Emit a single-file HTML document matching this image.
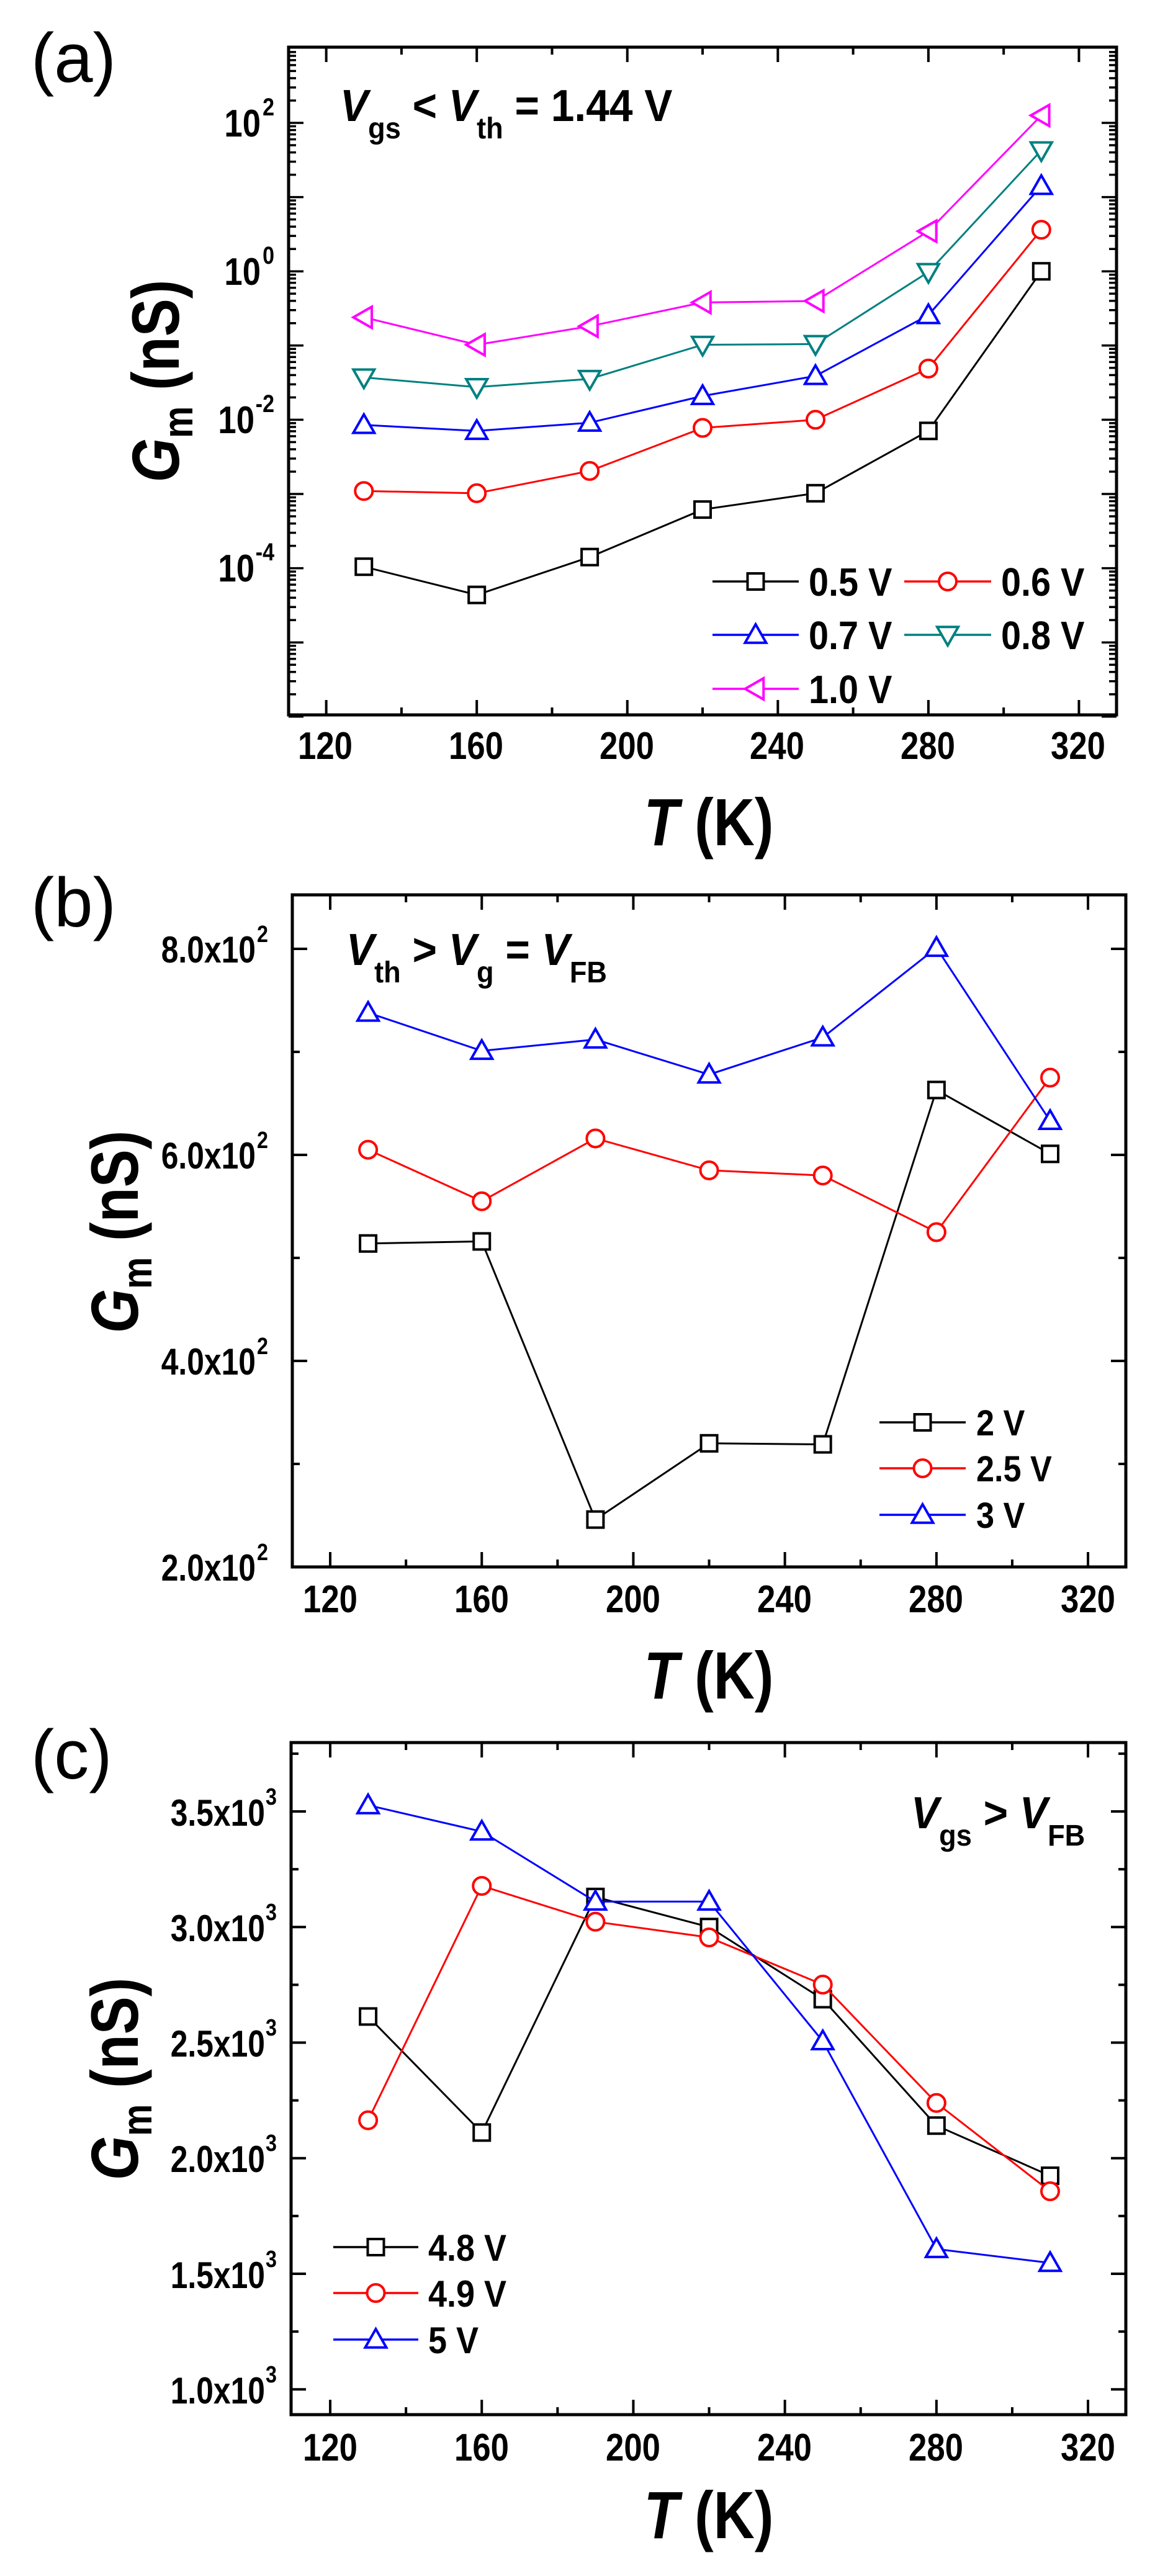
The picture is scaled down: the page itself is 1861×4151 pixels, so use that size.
<!DOCTYPE html>
<html><head><meta charset="utf-8">
<style>
html,body{margin:0;padding:0;background:#fff;}
svg{display:block;}
text{font-family:"Liberation Sans",Arial,sans-serif;font-weight:bold;fill:#000;}
.pl{font-weight:normal;}
</style></head>
<body>
<svg id="s" xmlns="http://www.w3.org/2000/svg" width="1861" height="4151" viewBox="0 0 1861 4151">
<rect width="1861" height="4151" fill="#fff"/>
<g id="g"></g>

<!-- panel labels -->
<text class="pl" x="50" y="132" font-size="112">(a)</text>
<text class="pl" x="50" y="1493" font-size="112">(b)</text>
<text class="pl" x="50" y="2866" font-size="112">(c)</text>

<!-- ===== (a) tick labels ===== -->
<g font-size="62" text-anchor="middle">
<text transform="translate(524,1223) scale(0.85,1)">120</text>
<text transform="translate(767,1223) scale(0.85,1)">160</text>
<text transform="translate(1010,1223) scale(0.85,1)">200</text>
<text transform="translate(1252,1223) scale(0.85,1)">240</text>
<text transform="translate(1495,1223) scale(0.85,1)">280</text>
<text transform="translate(1737,1223) scale(0.85,1)">320</text>
</g>
<g font-size="62" text-anchor="end">
<text transform="translate(420,220) scale(0.85,1)">10</text>
<text transform="translate(420,459) scale(0.85,1)">10</text>
<text transform="translate(410,698) scale(0.85,1)">10</text>
<text transform="translate(410,937) scale(0.85,1)">10</text>
</g>
<g font-size="40" text-anchor="end">
<text transform="translate(442,186) scale(0.85,1)">2</text>
<text transform="translate(442,425) scale(0.85,1)">0</text>
<text transform="translate(442,664) scale(0.85,1)">-2</text>
<text transform="translate(442,903) scale(0.85,1)">-4</text>
</g>
<!-- (a) axis titles -->
<text font-size="108" text-anchor="middle" transform="translate(1142,1362) scale(0.85,1)"><tspan font-style="italic">T</tspan> (K)</text>
<text font-size="108" text-anchor="middle" transform="translate(288,614) rotate(-90) scale(0.85,1)"><tspan font-style="italic">G</tspan><tspan font-size="68" dy="22">m</tspan><tspan dy="-22"> (nS)</tspan></text>
<!-- (a) annotation -->
<text font-size="72" transform="translate(548,195) scale(0.94,1)"><tspan font-style="italic">V</tspan><tspan font-size="48" dy="28">gs</tspan><tspan dy="-28"> &lt; </tspan><tspan font-style="italic">V</tspan><tspan font-size="48" dy="28">th</tspan><tspan dy="-28"> = 1.44 V</tspan></text>
<!-- (a) legend text -->
<g font-size="64">
<text transform="translate(1303,960) scale(0.9,1)">0.5 V</text>
<text transform="translate(1613,960) scale(0.9,1)">0.6 V</text>
<text transform="translate(1303,1046) scale(0.9,1)">0.7 V</text>
<text transform="translate(1613,1046) scale(0.9,1)">0.8 V</text>
<text transform="translate(1303,1133) scale(0.9,1)">1.0 V</text>
</g>

<!-- ===== (b) ===== -->
<g font-size="62" text-anchor="middle">
<text transform="translate(532,2598) scale(0.85,1)">120</text>
<text transform="translate(776,2598) scale(0.85,1)">160</text>
<text transform="translate(1020,2598) scale(0.85,1)">200</text>
<text transform="translate(1264,2598) scale(0.85,1)">240</text>
<text transform="translate(1508,2598) scale(0.85,1)">280</text>
<text transform="translate(1753,2598) scale(0.85,1)">320</text>
</g>
<g font-size="60" text-anchor="end">
<text transform="translate(412,1551) scale(0.83,1)">8.0x10</text>
<text transform="translate(412,1883) scale(0.83,1)">6.0x10</text>
<text transform="translate(412,2215) scale(0.83,1)">4.0x10</text>
<text transform="translate(412,2547) scale(0.83,1)">2.0x10</text>
</g>
<g font-size="38" text-anchor="end">
<text transform="translate(432,1518) scale(0.85,1)">2</text>
<text transform="translate(432,1850) scale(0.85,1)">2</text>
<text transform="translate(432,2182) scale(0.85,1)">2</text>
<text transform="translate(432,2514) scale(0.85,1)">2</text>
</g>
<text font-size="108" text-anchor="middle" transform="translate(1142,2737) scale(0.85,1)"><tspan font-style="italic">T</tspan> (K)</text>
<text font-size="108" text-anchor="middle" transform="translate(222,1985) rotate(-90) scale(0.85,1)"><tspan font-style="italic">G</tspan><tspan font-size="68" dy="22">m</tspan><tspan dy="-22"> (nS)</tspan></text>
<text font-size="72" transform="translate(558,1555) scale(0.94,1)"><tspan font-style="italic">V</tspan><tspan font-size="48" dy="28">th</tspan><tspan dy="-28"> &gt; </tspan><tspan font-style="italic">V</tspan><tspan font-size="48" dy="28">g</tspan><tspan dy="-28"> = </tspan><tspan font-style="italic">V</tspan><tspan font-size="48" dy="28">FB</tspan></text>
<g font-size="58">
<text transform="translate(1573,2313) scale(0.9,1)">2 V</text>
<text transform="translate(1573,2387) scale(0.9,1)">2.5 V</text>
<text transform="translate(1573,2462) scale(0.9,1)">3 V</text>
</g>

<!-- ===== (c) ===== -->
<g font-size="62" text-anchor="middle">
<text transform="translate(532,3965) scale(0.85,1)">120</text>
<text transform="translate(776,3965) scale(0.85,1)">160</text>
<text transform="translate(1020,3965) scale(0.85,1)">200</text>
<text transform="translate(1264,3965) scale(0.85,1)">240</text>
<text transform="translate(1508,3965) scale(0.85,1)">280</text>
<text transform="translate(1753,3965) scale(0.85,1)">320</text>
</g>
<g font-size="60" text-anchor="end">
<text transform="translate(427,2942) scale(0.83,1)">3.5x10</text>
<text transform="translate(427,3128) scale(0.83,1)">3.0x10</text>
<text transform="translate(427,3314) scale(0.83,1)">2.5x10</text>
<text transform="translate(427,3500) scale(0.83,1)">2.0x10</text>
<text transform="translate(427,3687) scale(0.83,1)">1.5x10</text>
<text transform="translate(427,3873) scale(0.83,1)">1.0x10</text>
</g>
<g font-size="38" text-anchor="end">
<text transform="translate(446,2908) scale(0.85,1)">3</text>
<text transform="translate(446,3094) scale(0.85,1)">3</text>
<text transform="translate(446,3280) scale(0.85,1)">3</text>
<text transform="translate(446,3466) scale(0.85,1)">3</text>
<text transform="translate(446,3653) scale(0.85,1)">3</text>
<text transform="translate(446,3839) scale(0.85,1)">3</text>
</g>
<text font-size="108" text-anchor="middle" transform="translate(1142,4090) scale(0.85,1)"><tspan font-style="italic">T</tspan> (K)</text>
<text font-size="108" text-anchor="middle" transform="translate(222,3350) rotate(-90) scale(0.85,1)"><tspan font-style="italic">G</tspan><tspan font-size="68" dy="22">m</tspan><tspan dy="-22"> (nS)</tspan></text>
<text font-size="72" transform="translate(1468,2946) scale(0.94,1)"><tspan font-style="italic">V</tspan><tspan font-size="48" dy="28">gs</tspan><tspan dy="-28"> &gt; </tspan><tspan font-style="italic">V</tspan><tspan font-size="48" dy="28">FB</tspan></text>
<g font-size="60">
<text transform="translate(690,3643) scale(0.9,1)">4.8 V</text>
<text transform="translate(690,3717) scale(0.9,1)">4.9 V</text>
<text transform="translate(690,3792) scale(0.9,1)">5 V</text>
</g>
</svg>
<script>
(function(){
var g=document.getElementById('g'),h='';
function L(x1,y1,x2,y2,c,w){h+='<line x1="'+x1+'" y1="'+y1+'" x2="'+x2+'" y2="'+y2+'" stroke="'+c+'" stroke-width="'+w+'"/>';}
function M(t,x,y,c){var s=13,w=4;
 if(t=='s')h+='<rect x="'+(x-s)+'" y="'+(y-s)+'" width="'+2*s+'" height="'+2*s+'" fill="#fff" stroke="'+c+'" stroke-width="'+w+'"/>';
 else if(t=='o')h+='<circle cx="'+x+'" cy="'+y+'" r="'+(s+1)+'" fill="#fff" stroke="'+c+'" stroke-width="'+w+'"/>';
 else{var p;var a=17;
  if(t=='u')p=[[x,y-a],[x+a,y+a*0.75],[x-a,y+a*0.75]];
  else if(t=='d')p=[[x,y+a],[x+a,y-a*0.75],[x-a,y-a*0.75]];
  else p=[[x-a,y],[x+a*0.75,y-a],[x+a*0.75,y+a]];
  h+='<polygon points="'+p.map(function(q){return q.join(',')}).join(' ')+'" fill="#fff" stroke="'+c+'" stroke-width="'+w+'"/>';}
}
function series(xs,ys,fx,fy,c,t){var pts=xs.map(function(x,i){return fx(x)+','+fy(ys[i])});
 h+='<polyline points="'+pts.join(' ')+'" fill="none" stroke="'+c+'" stroke-width="3"/>';
 xs.forEach(function(x,i){M(t,fx(x),fy(ys[i]),c)});}
function leg(x1,x2,y,c,t){L(x1,y,x2,y,c,3.5);M(t,(x1+x2)/2,y,c);}
function frame(l,t,r,b){h+='<rect x="'+l+'" y="'+t+'" width="'+(r-l)+'" height="'+(b-t)+'" fill="none" stroke="#000" stroke-width="5"/>';}
function xt(fx,t,b){for(var T=120;T<=320;T+=20){var x=fx(T),len=(T%40==0)?24:12;L(x,b,x,b-len,'#000',4);L(x,t,x,t+len,'#000',4);}}
var T=[130,160,190,220,250,280,310];
// (a)
var aL=465,aR=1799,aT=76,aB=1152;
var ax=function(T){return aL+(T-110)*6.064}, ay=function(e){return 198+(2-e)*119.6};
var ayv=function(v){return ay(Math.log10(v))};
xt(ax,aT,aB);
for(var d=-6;d<3;d++){for(var k=1;k<10;k++){var y=ay(d+Math.log10(k));var len=k==1?24:12;L(aL,y,aL+len,y,'#000',3.5);L(aR,y,aR-len,y,'#000',3.5);}}
frame(aL,aT,aR,aB);
var A=[
 [[-3.98,-4.36,-3.85,-3.21,-2.99,-2.15,0],'#000','s'],
 [[-2.96,-2.99,-2.69,-2.11,-2.0,-1.31,0.56],'#ff0000','o'],
 [[-2.07,-2.15,-2.04,-1.68,-1.41,-0.59,1.15],'#0000ff','u'],
 [[-1.43,-1.56,-1.45,-0.99,-0.98,-0.01,1.63],'#008080','d'],
 [[-0.62,-0.99,-0.74,-0.42,-0.40,0.54,2.1],'#ff00ff','l']];
A.forEach(function(s){series(T,s[0],ax,ay,s[1],s[2])});
leg(1148,1287,937,'#000','s');leg(1457,1597,937,'#ff0000','o');
leg(1148,1287,1023,'#0000ff','u');leg(1457,1597,1023,'#008080','d');
leg(1148,1287,1110,'#ff00ff','l');
// (b)
var bL=471,bR=1814,bT=1442,bB=2525;
var bx=function(T){return bL+(T-110)*6.105}, by=function(v){return 1529+(800-v)*1.66};
xt(bx,bT,bB);
for(var v=200;v<=850;v+=100){var y=by(v),len=(v%200==0)?24:12;L(bL,y,bL+len,y,'#000',4);L(bR,y,bR-len,y,'#000',4);}
frame(bL,bT,bR,bB);
series(T,[514,516,246,320,319,663,601],bx,by,'#000','s');
series(T,[605,555,616,585,580,525,675],bx,by,'#ff0000','o');
series(T,[738,701,712,678,714,801,633],bx,by,'#0000ff','u');
leg(1417,1556,2292,'#000','s');leg(1417,1556,2366,'#ff0000','o');leg(1417,1556,2441,'#0000ff','u');
// (c)
var cL=469,cR=1814,cT=2808,cB=3891;
var cx=function(T){return bL+(T-110)*6.105}, cy=function(v){return 2919+(3500-v)*0.3725};
xt(cx,cT,cB);
for(var v=1000;v<=3750;v+=250){var y=cy(v),len=(v%500==0)?24:12;L(cL,y,cL+len,y,'#000',4);L(cR,y,cR-len,y,'#000',4);}
frame(cL,cT,cR,cB);
series(T,[2613,2111,3130,3000,2688,2141,1924],cx,cy,'#000','s');
series(T,[2164,3178,3023,2955,2751,2239,1857],cx,cy,'#ff0000','o');
series(T,[3527,3413,3110,3110,2506,1607,1547],cx,cy,'#0000ff','u');
leg(537,674,3621,'#000','s');leg(537,674,3695,'#ff0000','o');leg(537,674,3770,'#0000ff','u');
g.innerHTML=h;
})();
</script>
</body></html>
